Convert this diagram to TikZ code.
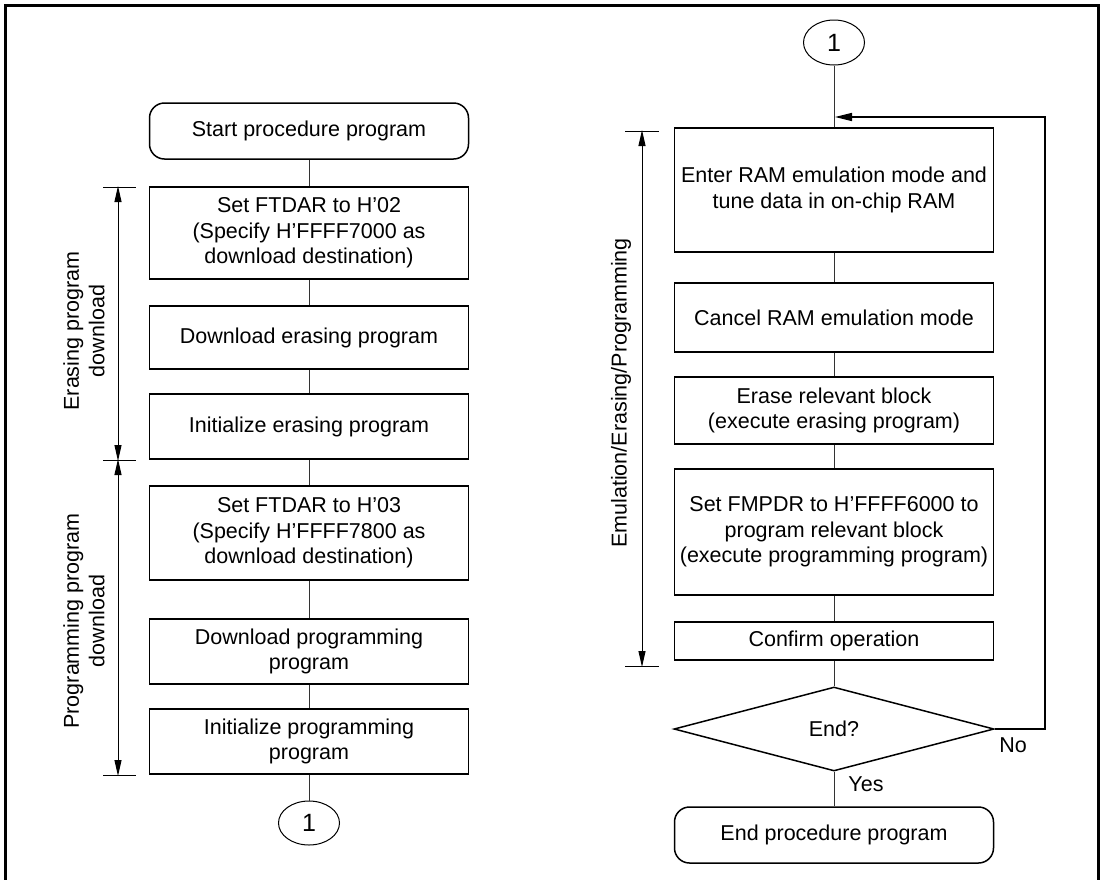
\documentclass[tikz,border=0pt]{standalone}
\usepackage{fontspec}
\setmainfont{Liberation Sans}
\usetikzlibrary{shapes.geometric,arrows.meta}
\begin{document}
\begin{tikzpicture}[x=1pt,y=-1pt,
  every node/.style={font=\fontsize{21.5}{25.5}\selectfont},
  box/.style={draw, line width=1.5pt, minimum width=319pt, inner sep=0pt, align=center},
  term/.style={box, rounded corners=15pt},
  conn/.style={draw, ellipse, line width=1pt, minimum width=61pt, minimum height=44pt, inner sep=0pt, font=\fontsize{25}{28}\selectfont},
  link/.style={line width=1pt, black!80},
  dim/.style={line width=1pt, {Triangle[length=16pt,width=7pt]}-{Triangle[length=16pt,width=7pt]}},
  tick/.style={line width=1pt}]
\useasboundingbox (0,0) rectangle (1103,879);
% frame
\draw[line width=3pt] (5.5,882) -- (5.5,5.5) -- (1098.5,5.5) -- (1098.5,882);

% left column
\node[term, minimum height=56pt] (start) at (309,131) {Start procedure program};
\node[box, minimum height=92pt] (a) at (309,233) {Set FTDAR to H'02\\(Specify H'FFFF7000 as\\download destination)};
\node[box, minimum height=63pt] (b) at (309,337.5) {Download erasing program};
\node[box, minimum height=65pt] (c) at (309,426.5) {Initialize erasing program};
\node[box, minimum height=94pt] (d) at (309,533) {Set FTDAR to H'03\\(Specify H'FFFF7800 as\\download destination)};
\node[box, minimum height=65pt] (e) at (309,651.5) {Download programming\\program};
\node[box, minimum height=65pt] (f) at (309,741.5) {Initialize programming\\program};
\node[conn] (c1) at (309,823) {1};

\draw[link] (start) -- (a);
\draw[link] (a) -- (b);
\draw[link] (b) -- (c);
\draw[link] (c) -- (d);
\draw[link] (d) -- (e);
\draw[link] (e) -- (f);
\draw[link] (f) -- (c1);

% left dimensions
\coordinate (t1) at (118,187);
\coordinate (t2) at (118,460);
\coordinate (t3) at (118,775);
\draw[tick] (103,187) -- (136,187);
\draw[tick] (103,460) -- (136,460);
\draw[tick] (103,775) -- (136,775);
\draw[dim] ([yshift=1pt]t1) -- ([yshift=-1pt]t2);
\draw[dim] ([yshift=1pt]t2) -- ([yshift=-1pt]t3);
\node[rotate=90, align=center] (lab1) at (84,331) {Erasing program\\download};
\node[rotate=90, align=center] (lab2) at (84,621) {Programming program\\download};

% right column
\node[conn, minimum height=45pt] (c2) at (834,42.5) {1};
\node[box, minimum height=124pt] (r1) at (834,190) {Enter RAM emulation mode and\\tune data in on-chip RAM};
\node[box, minimum height=69pt] (r2) at (834,317.5) {Cancel RAM emulation mode};
\node[box, minimum height=67pt] (r3) at (834,410.5) {Erase relevant block\\(execute erasing program)};
\node[box, minimum height=126pt] (r4) at (834,532) {Set FMPDR to H'FFFF6000 to\\program relevant block\\(execute programming program)};
\node[box, minimum height=38pt] (r5) at (834,641) {Confirm operation};
\node[draw, diamond, line width=1.5pt, aspect=3.8, minimum width=320pt, minimum height=84pt, inner sep=0pt] (dec) at (834,729) {End?};
\node[term, minimum height=56pt] (end) at (834,835) {End procedure program};

\draw[link] (c2) -- (r1);
\draw[link] (r1) -- (r2);
\draw[link] (r2) -- (r3);
\draw[link] (r3) -- (r4);
\draw[link] (r4) -- (r5);
\draw[link] (r5) -- (dec);
\draw[link] (dec) -- (end);

\coordinate (join) at (835,117);
\coordinate (lr) at (1045,729);
\coordinate (ur) at (1045,117);
\draw[line width=1.5pt, -{Triangle[length=17pt,width=8pt]}] (dec.east) -- (lr) -- (ur) -- (join);
\node (yes) at (866,784) {Yes};
\node (no) at (1013,745) {No};

% right dimension
\coordinate (t4) at (642,131);
\coordinate (t5) at (642,666);
\draw[tick] (625,131) -- (659,131);
\draw[tick] (625,666) -- (659,666);
\draw[dim] ([yshift=1pt]t4) -- ([yshift=-1pt]t5);
\node[rotate=90] (lab3) at (621,393) {Emulation/Erasing/Programming};
\end{tikzpicture}
\end{document}
